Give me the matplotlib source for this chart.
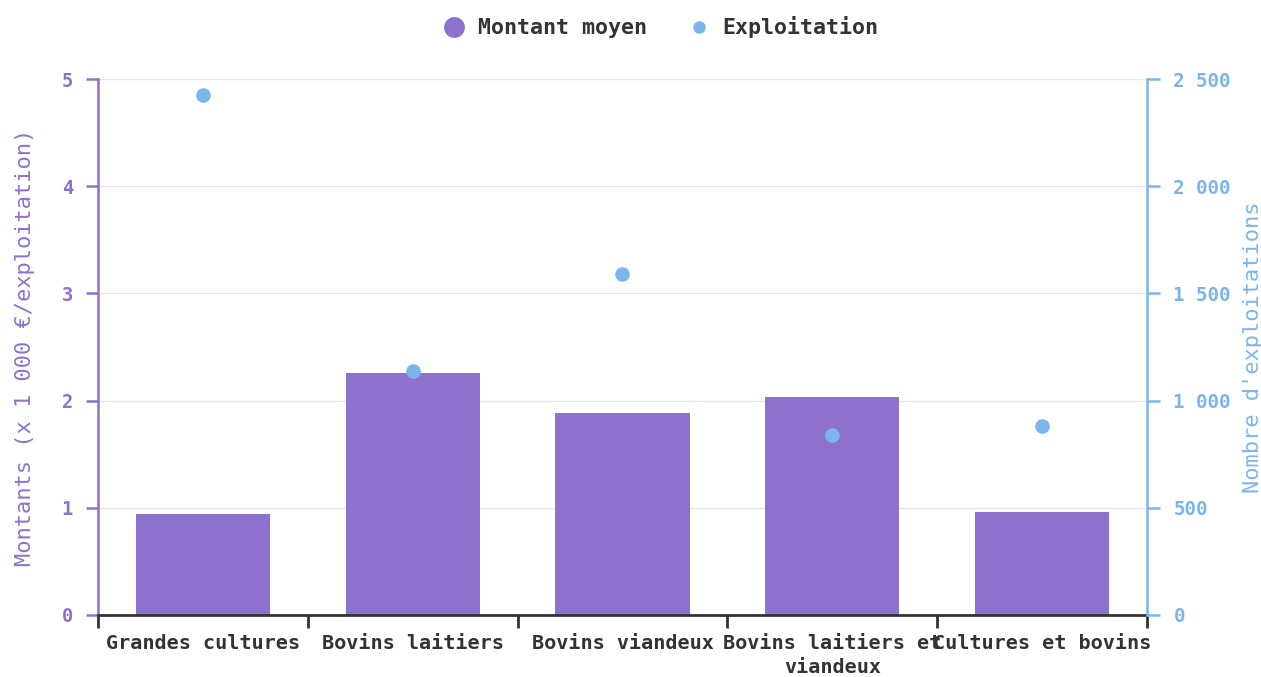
import matplotlib
matplotlib.use("Agg")
import matplotlib.pyplot as plt
from matplotlib.lines import Line2D
import numpy as np

categories = ["Grandes cultures", "Bovins laitiers", "Bovins viandeux",
              "Bovins laitiers et\nviandeux", "Cultures et bovins"]
montant_moyen = [0.94, 2.26, 1.88, 2.03, 0.96]
exploitations = [2425, 1140, 1590, 840, 882]
left_ticks = [0, 1, 2, 3, 4, 5]
right_ticks = [0, 500, 1000, 1500, 2000, 2500]
right_tick_labels = ["0", "500", "1 000", "1 500", "2 000", "2 500"]

PURPLE = "#8e71cc"
BLUE = "#7cb5ec"
DARK = "#333333"
MONO = "DejaVu Sans Mono"

plt.rcParams["font.family"] = MONO

fig = plt.figure(figsize=(12.61, 6.77), dpi=100)
ax = fig.add_axes([0.0777, 0.0916, 0.8319, 0.7917])

x = np.arange(len(categories))
ax.bar(x, montant_moyen, width=0.64, color=PURPLE, zorder=2)
ax.set_xlim(-0.5, len(categories) - 0.5)
ax.set_ylim(0, 5)
ax.set_yticks(left_ticks)
ax.set_yticklabels([str(t) for t in left_ticks], fontsize=13.5,
                   fontweight="bold", color=PURPLE)
ax.tick_params(axis="y", colors=PURPLE, length=9, width=1.8, pad=9)
ax.grid(axis="y", color="#e6e6e6", linewidth=1, zorder=0)
ax.set_axisbelow(True)
ax.set_ylabel("Montants (x 1 000 €/exploitation)", fontsize=15.8,
              color=PURPLE, labelpad=19)

# category labels centered, boundary ticks between bands
ax.set_xticks(x)
ax.set_xticklabels(categories, fontsize=14.5, fontweight="bold", color=DARK,
                   linespacing=1.3)
ax.tick_params(axis="x", which="major", length=0, pad=14)
ax.set_xticks(np.arange(len(categories) + 1) - 0.5, minor=True)
ax.tick_params(axis="x", which="minor", length=9, width=2, color=DARK)

for side in ("top", "right"):
    ax.spines[side].set_visible(False)
ax.spines["left"].set_color(PURPLE)
ax.spines["left"].set_linewidth(1.8)
ax.spines["bottom"].set_color(DARK)
ax.spines["bottom"].set_linewidth(2)

ax2 = ax.twinx()
ax2.scatter(x, exploitations, s=110, color=BLUE, zorder=3, linewidths=0)
ax2.set_ylim(0, 2500)
ax2.set_yticks(right_ticks)
ax2.set_yticklabels(right_tick_labels, fontsize=13.8, fontweight="bold",
                    color=BLUE)
ax2.tick_params(axis="y", colors=BLUE, length=9, width=1.8, pad=10)
ax2.set_ylabel("Nombre d'exploitations", fontsize=15.8, color=BLUE,
               labelpad=9)
for side in ("top", "left", "bottom"):
    ax2.spines[side].set_visible(False)
ax2.spines["right"].set_color(BLUE)
ax2.spines["right"].set_linewidth(1.8)

handles = [
    Line2D([], [], marker="o", linestyle="", markersize=15,
           markerfacecolor=PURPLE, markeredgewidth=0, label="Montant moyen"),
    Line2D([], [], marker="o", linestyle="", markersize=9,
           markerfacecolor=BLUE, markeredgewidth=0, label="Exploitation"),
]
leg = fig.legend(handles=handles, loc="upper center", ncol=2,
                 bbox_to_anchor=(0.523, 1.005), frameon=False,
                 prop={"family": MONO, "weight": "bold", "size": 15.6},
                 handletextpad=0.5, columnspacing=1.8, handlelength=1.2)
for t in leg.get_texts():
    t.set_color(DARK)

fig.savefig("out.png", dpi=100)
